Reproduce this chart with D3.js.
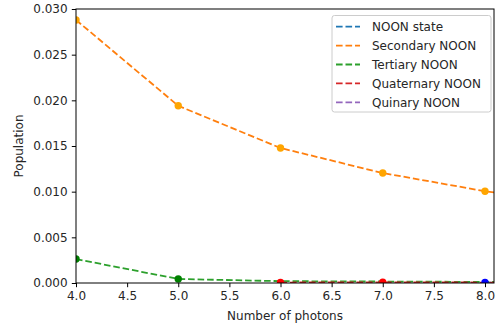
<!DOCTYPE html>
<html><head><meta charset="utf-8">
<script src="https://cdn.jsdelivr.net/npm/d3@7"></script>
<style>body{margin:0;background:#fff}svg{display:block;font-family:"DejaVu Sans",sans-serif}</style>
</head><body>
<svg id="c" width="497" height="324"></svg>
<script>
const photons = [4, 5, 6, 7, 8, 9];
const noonState = [null, null, null, null, 0.00005, 0.00004];
const secondary = [0.0288, 0.0194, 0.01478, 0.01204, 0.01005, 0.0086];
const tertiary = [0.00262, 0.00044, 0.0002, 0.00016, 0.00012, 0.0001];
const quaternary = [null, null, 0.00005, 0.00007, 0.00005, 0.00004];
const quinary = [null, null, null, null, null, 0.00003];
const seriesNames = ["NOON state", "Secondary NOON", "Tertiary NOON", "Quaternary NOON", "Quinary NOON"];
const seriesColors = ["#1f77b4", "#ff7f0e", "#2ca02c", "#d62728", "#9467bd"];
const orangeDots = [0.0288, 0.0194, 0.01478, 0.01204, 0.01005];
const dotPhotons = [4, 5, 6, 7, 8];
const dotValues = [0.00262, 0.00044, 0.00005, 0.00009, 0.00005];
const dotColors = ["green", "green", "red", "red", "blue"];
const xTicks = [4.0, 4.5, 5.0, 5.5, 6.0, 6.5, 7.0, 7.5, 8.0];
const yTicks = [0.000, 0.005, 0.010, 0.015, 0.020, 0.025, 0.030];

const FS = 12;
const svg = d3.select("#c");
const L = 76, R = 494, T = 9, B = 283;
const x = d3.scaleLinear().domain([4, 8.088]).range([L, R]);
const y = d3.scaleLinear().domain([0, 0.030]).range([B, T]);

svg.append("defs").append("clipPath").attr("id", "clip")
  .append("rect").attr("x", L).attr("y", T).attr("width", R - L).attr("height", B - T);

const allSeries = [noonState, secondary, tertiary, quaternary, quinary];
const plot = svg.append("g").attr("clip-path", "url(#clip)");
const line = d3.line().defined(d => d[1] != null).x(d => x(d[0])).y(d => y(d[1]));
allSeries.forEach((vals, i) => {
  plot.append("path")
    .datum(photons.map((p, j) => [p, vals[j]]))
    .attr("d", line)
    .attr("fill", "none")
    .attr("stroke", seriesColors[i])
    .attr("stroke-width", 1.8)
    .attr("stroke-dasharray", "6.6,2.9");
});
plot.selectAll(".od").data(orangeDots).enter().append("circle")
  .attr("cx", (d, i) => x(dotPhotons[i])).attr("cy", d => y(d)).attr("r", 3.7).attr("fill", "orange");
plot.selectAll(".dd").data(dotValues).enter().append("circle")
  .attr("cx", (d, i) => x(dotPhotons[i])).attr("cy", d => y(d)).attr("r", 3.7).attr("fill", (d, i) => dotColors[i]);

const xa = svg.append("g").attr("transform", `translate(0,${B})`)
  .call(d3.axisBottom(x).tickValues(xTicks).tickFormat(d3.format(".1f")).tickSizeInner(4.2).tickSizeOuter(0).tickPadding(4.2));
const ya = svg.append("g").attr("transform", `translate(${L},0)`)
  .call(d3.axisLeft(y).tickValues(yTicks).tickFormat(d3.format(".3f")).tickSizeInner(4.2).tickSizeOuter(0).tickPadding(4.2));
[xa, ya].forEach(a => {
  a.select(".domain").remove();
  a.selectAll("line").attr("stroke", "#000").attr("stroke-width", 1);
  a.selectAll("text").attr("font-size", FS).attr("fill", "#262626").attr("font-family", "DejaVu Sans");
});
svg.append("rect").attr("x", L).attr("y", T).attr("width", R - L).attr("height", B - T)
  .attr("fill", "none").attr("stroke", "#000").attr("stroke-width", 1);

svg.append("text").attr("x", (L + R) / 2).attr("y", 320).attr("text-anchor", "middle")
  .attr("font-size", FS).attr("fill", "#262626").text("Number of photons");
svg.append("text").attr("transform", `translate(23,${(T + B) / 2}) rotate(-90)`).attr("text-anchor", "middle")
  .attr("font-size", FS).attr("fill", "#262626").text("Population");

const lg = svg.append("g");
const lx = 332, ly = 15.5, lw = 159, rowH = 18.9;
lg.append("rect").attr("x", lx).attr("y", ly).attr("width", lw).attr("height", 96.5)
  .attr("rx", 2.5).attr("fill", "#fff").attr("fill-opacity", 0.8).attr("stroke", "#ccc").attr("stroke-width", 1);
seriesNames.forEach((n, i) => {
  const cy = ly + 11.2 + i * rowH;
  lg.append("line").attr("x1", lx + 4).attr("x2", lx + 28).attr("y1", cy).attr("y2", cy)
    .attr("stroke", seriesColors[i]).attr("stroke-width", 1.8).attr("stroke-dasharray", "6.6,2.9");
  lg.append("text").attr("x", lx + 40).attr("y", cy + 4.5).attr("font-size", FS).attr("fill", "#262626").text(n);
});
</script>
</body></html>
